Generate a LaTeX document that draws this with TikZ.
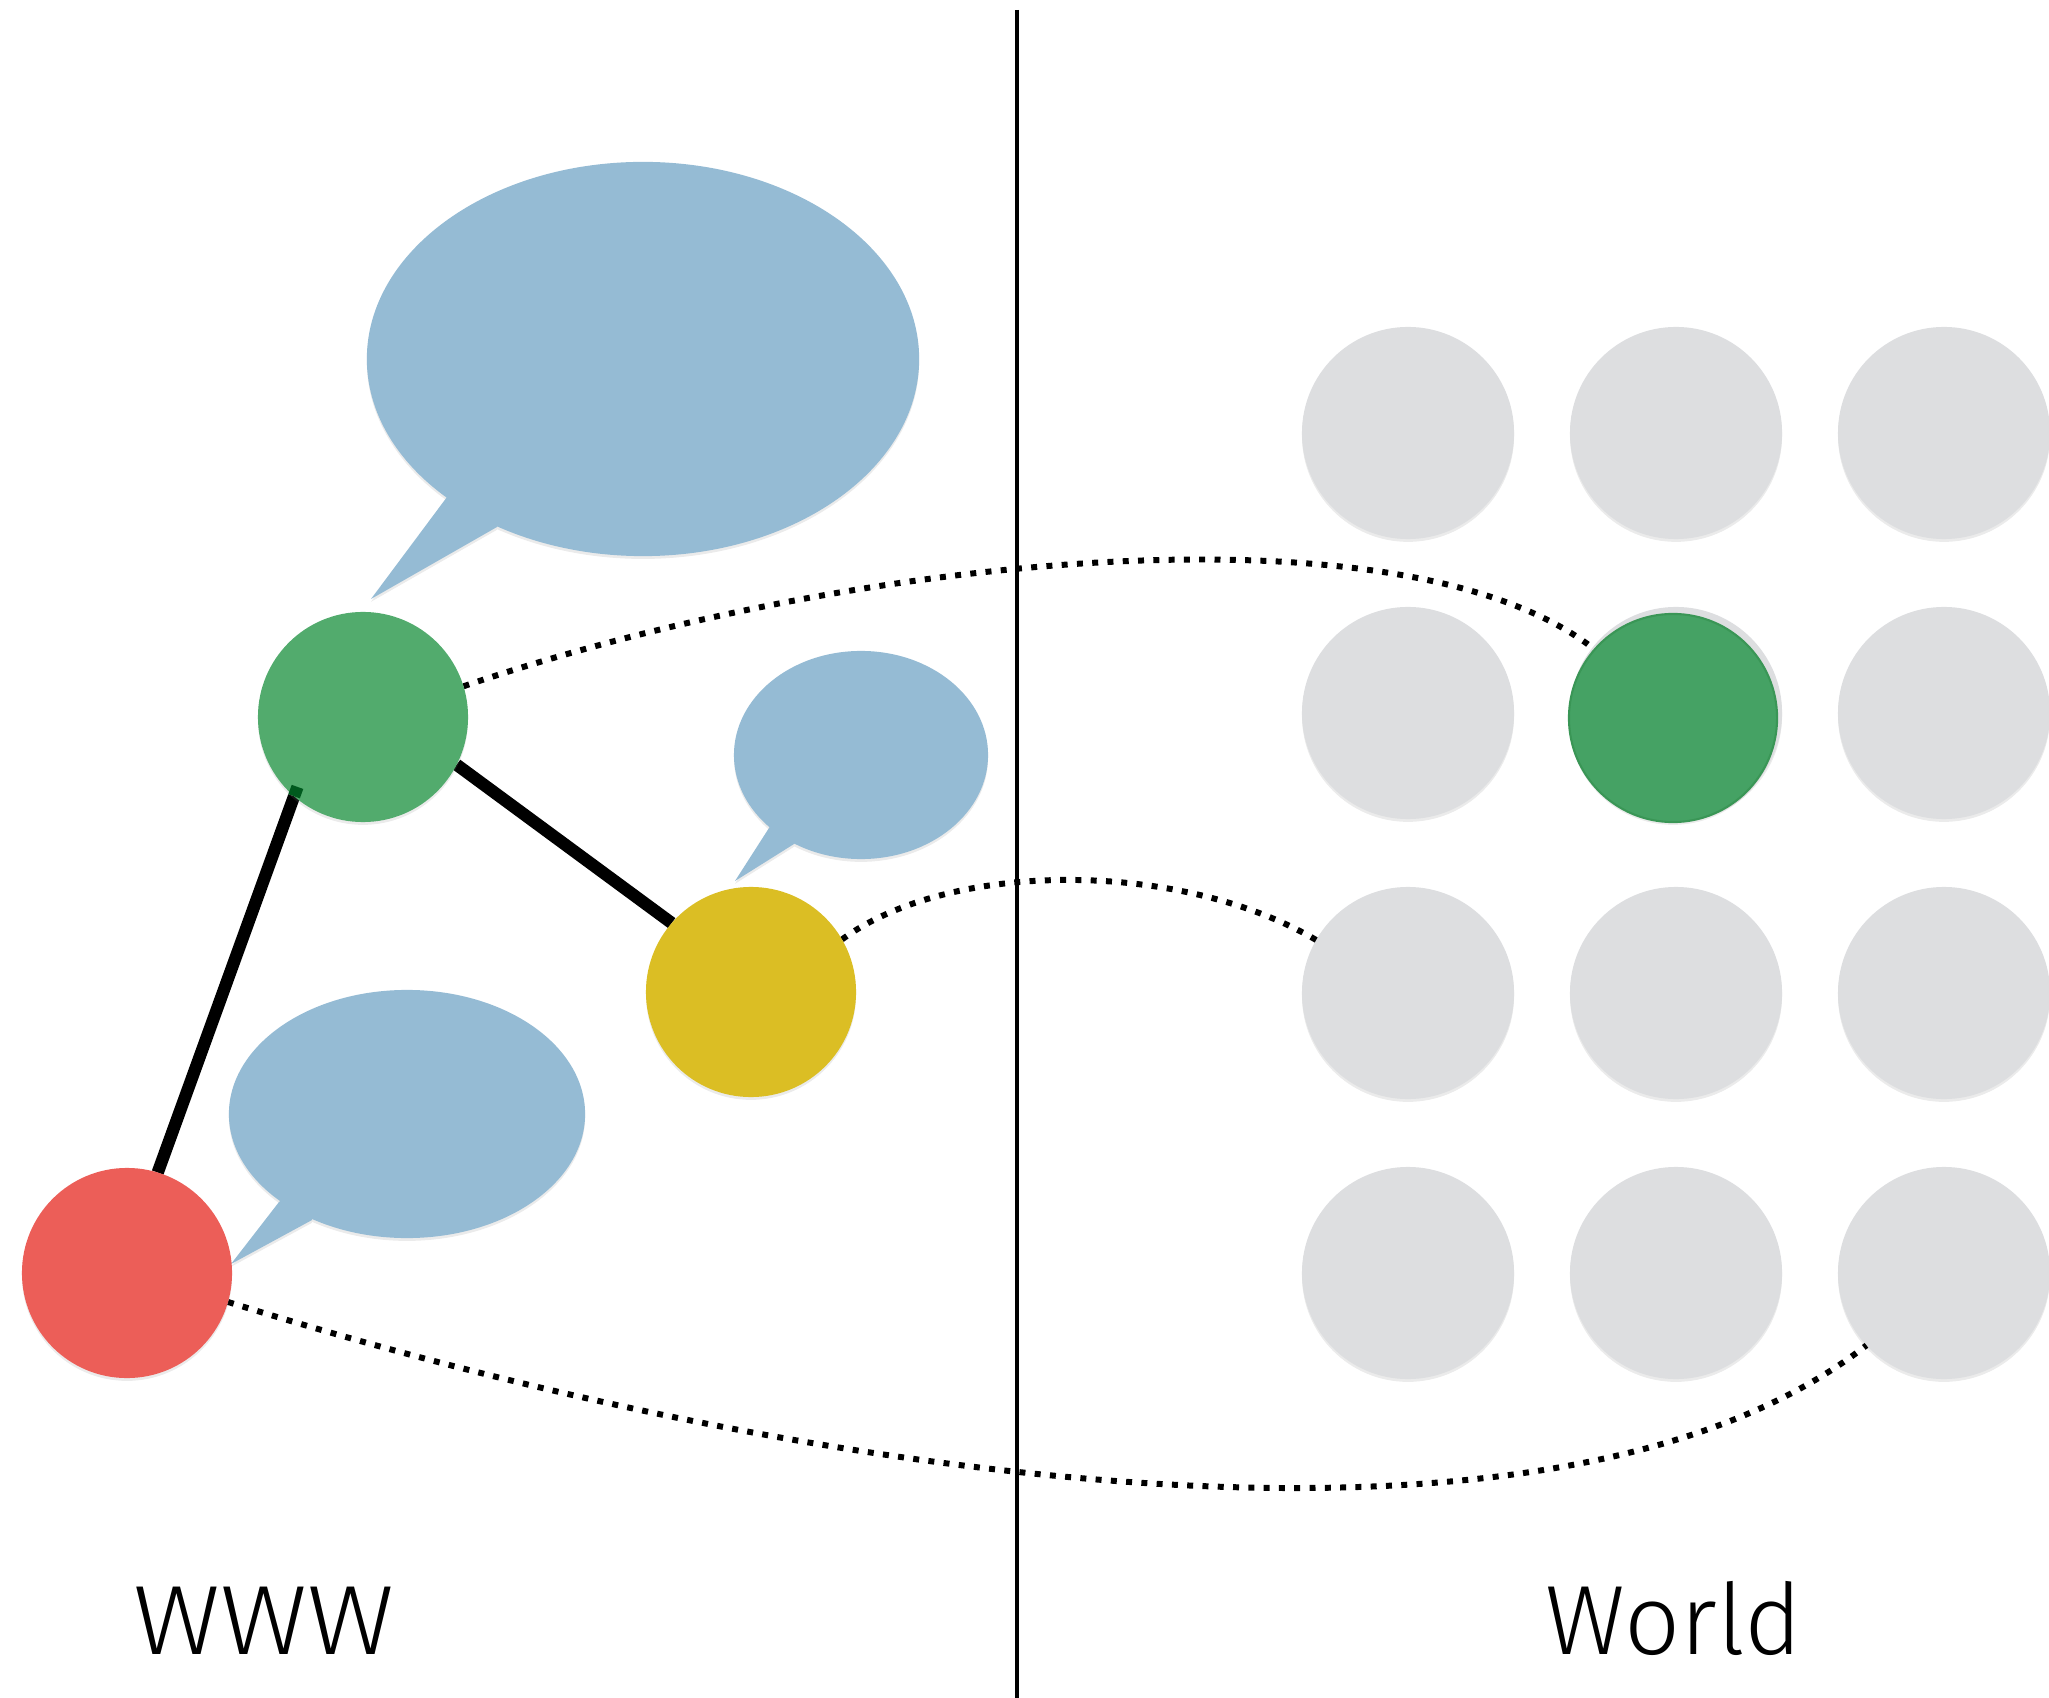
\documentclass[tikz,border=0pt]{standalone}
\usepackage{fontspec}
\IfFontExistsTF{Fira Sans Light}{\newfontfamily\labelfont{Fira Sans Light}}{%
  \IfFontExistsTF{Lato Light}{\newfontfamily\labelfont{Lato Light}}{%
    \newfontfamily\labelfont{Liberation Sans}}}
\usetikzlibrary{shadows,calc}
\definecolor{bubbleblue}{HTML}{95BBD4}
\definecolor{nodegreen}{HTML}{52AB6D}
\definecolor{nodeyellow}{HTML}{DBBE24}
\definecolor{nodered}{HTML}{EC5E58}
\definecolor{cellgray}{HTML}{DDDEE0}
\definecolor{cellgreen}{HTML}{45A264}
\definecolor{cellgreenrim}{HTML}{3A9656}
\definecolor{darkpatch}{HTML}{005A1E}
\begin{document}
\begin{tikzpicture}[x=0.01cm,y=-0.01cm,
  softshadow/.style={drop shadow={opacity=0.16,shadow xshift=0pt,shadow yshift=-0.8pt}},
  dot/.style={circle,minimum size=2.1cm,inner sep=0pt,outer sep=0pt,draw=none,softshadow},
  anchorring/.style={circle,minimum size=2.1cm,inner sep=0pt,outer sep=0pt},
  cell/.style={dot,fill=cellgray,minimum size=2.12cm},
  link/.style={line width=3.5pt,black},
  trace/.style={line width=1.7pt,dash pattern=on 1.7pt off 2.65pt},
  bubble/.style={fill=bubbleblue,softshadow},
  caption/.style={font=\labelfont\fontsize{28}{30}\selectfont,anchor=base,inner sep=0pt}]
\useasboundingbox (0,0) rectangle (2049,1698);

% divider
\coordinate (topend) at (1017,10);
\coordinate (botend) at (1017,1698);
\draw[line width=1.15pt] (topend) -- (botend);

% speech bubbles
\fill[bubble] (643,359) ellipse [x radius=2.76cm, y radius=1.97cm]
  (447,497) -- (371,599) -- (497,527) -- (480,470) -- cycle;
\fill[bubble] (861,755) ellipse [x radius=1.27cm, y radius=1.04cm]
  (769,828) -- (735,881) -- (794,844) -- (790,800) -- cycle;
\fill[bubble] (407,1114) ellipse [x radius=1.78cm, y radius=1.24cm]
  (279,1202) -- (231,1264) -- (312,1220) -- (310,1180) -- cycle;

% grid of people in the world
\foreach \c/\x in {1/1408,2/1676,3/1944}{
  \foreach \r/\y in {1/433,2/713,3/993,4/1273}{
    \node[cell] (c\r\c) at (\x,\y) {};
  }
}
\node[dot,fill=cellgreen,draw=cellgreenrim,line width=0.6pt,minimum size=2.08cm] (cg) at (1673,718) {};

% web nodes
\coordinate (gpos) at (363,717);
\coordinate (ypos) at (751,992);
\coordinate (rpos) at (127,1273);
\node[anchorring] (g) at (gpos) {};
\node[anchorring] (y) at (ypos) {};
\node[anchorring] (r) at (rpos) {};

% links
\draw[link] (r.73) -- (g.229);
\draw[link] (g.-27) -- (y.139);

% dotted correspondences
\draw[trace] (g.17) .. controls (850,555) and (1400,500) .. (c22.142);
\draw[trace] (y.30) .. controls (950,860) and (1180,860) .. (c31.150);
\draw[trace] (r.-16) .. controls (800,1480) and (1550,1592) .. (c43.-137);

% visible web nodes
\node[dot,fill=nodegreen] (gdisk) at (gpos) {};
\node[dot,fill=nodeyellow] (ydisk) at (ypos) {};
\node[dot,fill=nodered] (rdisk) at (rpos) {};
\draw[line width=3.5pt,darkpatch] (g.229) -- ($(r.73)!1.025!(g.229)$);

% captions
\node[caption,xscale=1.09,transform shape] (www) at (264,1654) {WWW};
\node[caption] (world) at (1674,1654) {World};
\end{tikzpicture}
\end{document}
